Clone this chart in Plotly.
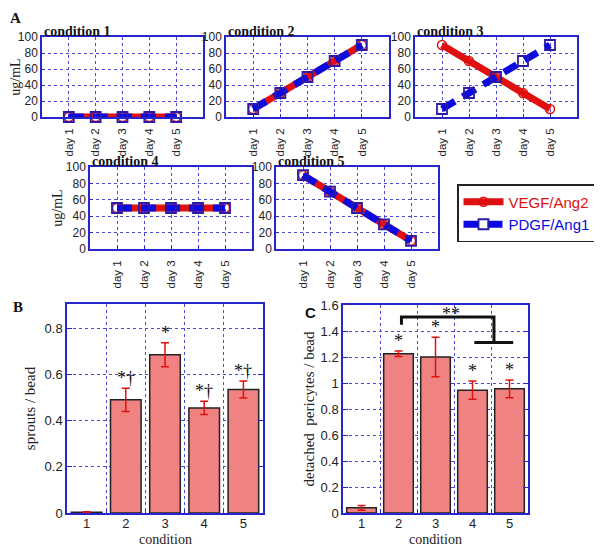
import plotly.graph_objects as go

# ---------------- data ----------------
day_labels = ["day 1", "day 2", "day 3", "day 4", "day 5"]
day_pos = [1, 2, 3, 4, 5]
condition_titles = ["condition 1", "condition 2", "condition 3", "condition 4", "condition 5"]

vegf_c1 = [0, 0, 0, 0, 0]
vegf_c2 = [10, 30, 50, 70, 90]
vegf_c3 = [90, 70, 50, 30, 10]
vegf_c4 = [50, 50, 50, 50, 50]
vegf_c5 = [90, 70, 50, 30, 10]

pdgf_c1 = [0, 0, 0, 0, 0]
pdgf_c2 = [10, 30, 50, 70, 90]
pdgf_c3 = [10, 30, 50, 70, 90]
pdgf_c4 = [50, 50, 50, 50, 50]
pdgf_c5 = [90, 70, 50, 30, 10]

bar_conditions = [1, 2, 3, 4, 5]
sprouts = [0.003, 0.49, 0.685, 0.455, 0.535]
sprouts_err = [0.002, 0.05, 0.052, 0.029, 0.037]
sprouts_sig = ["", "*†", "*", "*†", "*†"]

pericytes = [0.04, 1.225, 1.2, 0.945, 0.955]
pericytes_err = [0.018, 0.022, 0.152, 0.07, 0.068]
pericytes_sig = ["", "*", "*", "*", "*"]

# significance bracket (condition 2 vs conditions 4-5)
bracket_x = [2.08, 2.08, 4.58, 4.58]
bracket_y = [1.448, 1.508, 1.508, 1.312]
bracket_base_x = [4.05, 5.1]
bracket_base_y = [1.312, 1.312]
bracket_label = "**"

# ---------------- style ----------------
OFF = 8                      # page body margin of the html page
W, H = 602 - OFF, 547 - OFF  # figure size so that it fills the window
AXC = "#2626cc"
GRIDC = "#4a4ad6"
RED = "#e01010"
BLUE = "#0a0ae0"
BARFILL = "#f08282"
SERIF = "Liberation Serif"
SANS = "Liberation Sans, Arial"


def px_x(a):
    return (a - OFF) / W


def px_y(a):
    return 1 - (a - OFF) / H


def dom_x(a, b):
    return [px_x(a), px_x(b)]


def dom_y(top, bottom):
    return [px_y(bottom), px_y(top)]


fig = go.Figure()

vegf_all = [vegf_c1, vegf_c2, vegf_c3, vegf_c4, vegf_c5]
pdgf_all = [pdgf_c1, pdgf_c2, pdgf_c3, pdgf_c4, pdgf_c5]

panel_boxes = [
    (42, 203, 37, 117),
    (226, 389, 37, 117),
    (415, 577, 37, 117),
    (90, 252, 167, 249),
    (276, 438, 167, 249),
]

layout_axes = {}
for i in range(5):
    k = i + 1
    xa = "x" if k == 1 else f"x{k}"
    ya = "y" if k == 1 else f"y{k}"
    fig.add_trace(go.Scatter(
        x=day_pos, y=vegf_all[i], xaxis=xa, yaxis=ya,
        mode="lines+markers", cliponaxis=False,
        name="<span style='color:#e01010'>VEGF/Ang2</span>",
        legendgroup="vegf", showlegend=(i == 0),
        line=dict(color=RED, width=7),
        marker=dict(symbol="circle-open", size=9, color=RED, line=dict(width=1.5, color=RED)),
    ))
    fig.add_trace(go.Scatter(
        x=day_pos, y=pdgf_all[i], xaxis=xa, yaxis=ya,
        mode="lines+markers", cliponaxis=False,
        name="<span style='color:#0a0ae0'>PDGF/Ang1</span>",
        legendgroup="pdgf", showlegend=(i == 0),
        line=dict(color=BLUE, width=7, dash="15px,9px"),
        marker=dict(symbol="square-open", size=10, color="#2a1aa8", line=dict(width=1.8, color="#2a1aa8")),
    ))
    x0, x1, t, b = panel_boxes[i]
    key_x = "xaxis" if k == 1 else f"xaxis{k}"
    key_y = "yaxis" if k == 1 else f"yaxis{k}"
    layout_axes[key_x] = dict(
        domain=dom_x(x0, x1), anchor=ya, range=[0, 6], automargin=False,
        tickmode="array", tickvals=day_pos, ticktext=day_labels, tickangle=-90,
        ticklabelstandoff=5,
        showline=True, linecolor=AXC, linewidth=1.5, mirror=True,
        showgrid=True, gridcolor=GRIDC, griddash="dot", gridwidth=1,
        ticks="inside", ticklen=3, tickcolor=AXC,
        tickfont=dict(family=SANS, size=11.5, color="#222"),
        zeroline=False, fixedrange=True,
    )
    layout_axes[key_y] = dict(
        domain=dom_y(t, b), anchor=xa, range=[0, 100], automargin=False,
        tickmode="array", tickvals=[0, 20, 40, 60, 80, 100],
        showline=True, linecolor=AXC, linewidth=1.5, mirror=True,
        showgrid=True, gridcolor=GRIDC, griddash="dot", gridwidth=1,
        ticks="inside", ticklen=3, tickcolor=AXC,
        tickfont=dict(family=SANS, size=12, color="#222"),
        zeroline=False, fixedrange=True,
    )
    if k in (1, 4):
        layout_axes[key_y]["title"] = dict(text="ug/mL", font=dict(family=SERIF, size=14, color="#222"), standoff=0)

# ---------------- panel B ----------------
fig.add_trace(go.Bar(
    x=bar_conditions, y=sprouts, xaxis="x6", yaxis="y6", showlegend=False,
    width=0.78, marker=dict(color=BARFILL, line=dict(color="#222", width=1.5)),
    error_y=dict(type="data", array=sprouts_err, color=RED, thickness=1.5, width=4),
))
# ---------------- panel C ----------------
fig.add_trace(go.Bar(
    x=bar_conditions, y=pericytes, xaxis="x7", yaxis="y7", showlegend=False,
    width=0.8, marker=dict(color=BARFILL, line=dict(color="#222", width=1.5)),
    error_y=dict(type="data", array=pericytes_err, color=RED, thickness=1.5, width=4),
))


def bar_x_axis(dom, anchor):
    return dict(
        domain=dom, anchor=anchor, range=[0.5, 5.5], automargin=False,
        tickmode="array", tickvals=bar_conditions, ticktext=[str(c) for c in bar_conditions],
        showline=True, linecolor=AXC, linewidth=1.5, mirror=True,
        showgrid=False, ticks="", zeroline=False, fixedrange=True, ticklabelstandoff=-2,
        minor=dict(tickvals=[1.5, 2.5, 3.5, 4.5], showgrid=True, gridcolor=GRIDC,
                   griddash="dot", gridwidth=1, ticks="inside", ticklen=4, tickcolor=AXC),
        tickfont=dict(family=SANS, size=13, color="#222"),
    )


def bar_y_axis(dom, anchor, rng, title, standoff):
    return dict(
        domain=dom, anchor=anchor, range=rng, dtick=0.2, tick0=0, automargin=False,
        showline=True, linecolor=AXC, linewidth=1.5, mirror="ticks",
        showgrid=True, gridcolor=GRIDC, griddash="dot", gridwidth=1,
        ticks="inside", ticklen=5, tickcolor=AXC, zeroline=False, fixedrange=True,
        tickfont=dict(family=SANS, size=13, color="#222"),
        title=dict(text=title, font=dict(family=SERIF, size=15, color="#222"), standoff=standoff),
    )


layout_axes["xaxis6"] = bar_x_axis(dom_x(67, 263), "y6")
layout_axes["yaxis6"] = bar_y_axis(dom_y(304, 513), "x6", [0, 0.905], "sprouts / bead", 5)
layout_axes["xaxis7"] = bar_x_axis(dom_x(343, 528), "y7")
layout_axes["yaxis7"] = bar_y_axis(dom_y(305, 513), "x7", [0, 1.6], "detached  pericytes / bead", 2)

annotations = []
# condition titles
for i in range(5):
    x0, x1, t, b = panel_boxes[i]
    annotations.append(dict(
        text="<b>" + condition_titles[i] + "</b>", xref="paper", yref="paper",
        x=px_x(x0), y=px_y(t), xanchor="left", yanchor="bottom", yshift=-4, showarrow=False,
        font=dict(family=SERIF, size=14, color="#111"),
    ))
# x-axis titles of the bar panels
for (a, b) in [(67, 263), (343, 528)]:
    annotations.append(dict(
        text="condition", xref="paper", yref="paper", x=px_x((a + b) / 2), y=px_y(539),
        xanchor="center", yanchor="middle", showarrow=False,
        font=dict(family=SERIF, size=14, color="#222"),
    ))
# significance marks
for c, v, e, s in zip(bar_conditions, sprouts, sprouts_err, sprouts_sig):
    if s:
        annotations.append(dict(text=s, x=c, y=v + e, xref="x6", yref="y6", xanchor="center",
                                yanchor="bottom", yshift=-2, showarrow=False,
                                font=dict(family=SERIF, size=18, color="#111")))
for c, v, e, s in zip(bar_conditions, pericytes, pericytes_err, pericytes_sig):
    if s:
        annotations.append(dict(text=s, x=c, y=v + e, xref="x7", yref="y7", xanchor="center",
                                yanchor="bottom", yshift=-2, showarrow=False,
                                font=dict(family=SERIF, size=18, color="#111")))
annotations.append(dict(text=bracket_label, x=(bracket_x[1] + bracket_x[2]) / 2 + 0.1, y=bracket_y[1],
                        xref="x7", yref="y7", yanchor="bottom", yshift=-9, showarrow=False,
                        font=dict(family=SERIF, size=18, color="#111")))
# panel letters
annotations.append(dict(text="<b>A</b>", xref="paper", yref="paper", x=px_x(8), y=px_y(8),
                        xanchor="left", yanchor="top", showarrow=False,
                        font=dict(family=SERIF, size=15, color="#111")))
annotations.append(dict(text="<b>B</b>", xref="paper", yref="paper", x=px_x(18), y=px_y(307),
                        xanchor="center", yanchor="middle", showarrow=False,
                        font=dict(family=SERIF, size=15, color="#111")))
annotations.append(dict(text="<b>C</b>", xref="paper", yref="paper", x=px_x(310), y=px_y(312),
                        xanchor="center", yanchor="middle", showarrow=False,
                        font=dict(family=SANS, size=15, color="#111")))

shapes = [
    dict(type="path", xref="x7", yref="y7",
         path="M {} {} L {} {} L {} {} L {} {}".format(bracket_x[0], bracket_y[0], bracket_x[1], bracket_y[1],
                                                      bracket_x[2], bracket_y[2], bracket_x[3], bracket_y[3]),
         line=dict(color="#111", width=3)),
    dict(type="line", xref="x7", yref="y7", x0=bracket_base_x[0], x1=bracket_base_x[1],
         y0=bracket_base_y[0], y1=bracket_base_y[1], line=dict(color="#111", width=3)),
]

fig.update_layout(
    width=W, height=H, margin=dict(l=0, r=0, t=0, b=0, autoexpand=False),
    paper_bgcolor="white", plot_bgcolor="white",
    showlegend=True,
    legend=dict(x=px_x(596), y=px_y(184), xanchor="right", yanchor="top",
                bordercolor="#222", borderwidth=1.5, bgcolor="white",
                font=dict(family=SANS, size=15), itemwidth=40, tracegroupgap=0),
    annotations=annotations, shapes=shapes, bargap=0.2,
    **layout_axes,
)

fig.write_html("out.html")
